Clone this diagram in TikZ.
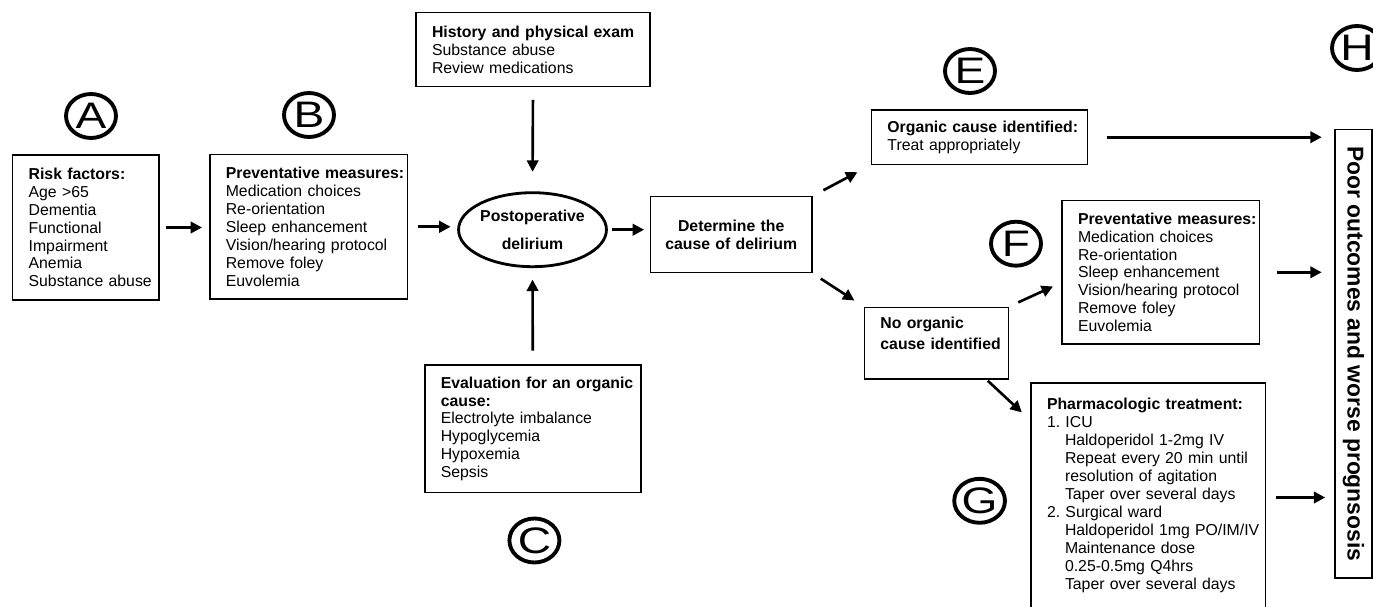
\documentclass[tikz,border=0pt]{standalone}
\usepackage{fontspec}
\setmainfont{Liberation Sans}
\usetikzlibrary{arrows.meta,shapes.geometric,calc}

\begin{document}
\begin{tikzpicture}[
			x=0.02cm, y=-0.02cm,
			box/.style={draw, line width=0.9pt, rectangle, inner sep=0, font=\fontsize{9}{10.2}\selectfont\frenchspacing},
			listbox/.style={box, align=left, execute at begin node={\leftskip=0.32cm}},
			letter/.style={ellipse, draw, line width=2.2pt, minimum width=1cm, minimum height=0.88cm, inner sep=0, font=\fontsize{21}{21}\selectfont},
			arr/.style={line width=1.5pt, -{Triangle[length=6.5pt,width=6.5pt]}},
		]
		\useasboundingbox (0,0) rectangle (1373,607);
		\node[listbox, text width=2.926cm, minimum height=2.9cm] (riskbox) at (85.8,227.5)
			{\textbf{Risk factors:}\\Age >65\\Dementia\\Functional\\Impairment\\Anemia\\Substance abuse};
		\node[listbox, text width=3.956cm, minimum height=2.9cm] (prevbox1) at (308.7,226.8)
			{\textbf{Preventative measures:}\\Medication choices\\Re-orientation\\Sleep enhancement\\Vision/hearing protocol\\Remove foley\\Euvolemia};
		\node[listbox, text width=4.68cm, minimum height=1.48cm] (histbox) at (533,49.7)
			{\textbf{History and physical exam}\\Substance abuse\\Review medications};
		\node[listbox, text width=4.32cm, minimum height=2.554cm] (evalbox) at (532.8,428.8)
			{\textbf{Evaluation for an organic}\\\textbf{cause:}\\Electrolyte imbalance\\Hypoglycemia\\Hypoxemia\\Sepsis};
		\node[ellipse, draw, line width=1.6pt, minimum width=2.546cm, minimum height=1.48cm, inner sep=0, align=center, font=\bfseries\fontsize{9}{10.2}\selectfont] (delirium) at (532.5,229.7)
			{Postoperative\\[5.5pt]delirium};
		\node[box, align=center, text width=3.234cm, minimum height=1.52cm] (causebox) at (731.2,234.7)
			{\bfseries Determine the\\cause of delirium};
		\node[listbox, text width=4.32cm, minimum height=1.086cm] (organicbox) at (979.4,137.2)
			{\textbf{Organic cause identified:}\\Treat appropriately};
		\node[listbox, text width=2.88cm, minimum height=1.44cm] (noorganicbox) at (936.4,343.3)
			{\bfseries No organic\\[1.5pt]cause identified\\[1.5pt]\mbox{}};
		\node[listbox, text width=3.948cm, minimum height=2.866cm] (prevbox2) at (1160.7,272.3)
			{\textbf{Preventative measures:}\\Medication choices\\Re-orientation\\Sleep enhancement\\Vision/hearing protocol\\Remove foley\\Euvolemia};
		\node[listbox, text width=4.692cm, minimum height=4.58cm] (pharmbox) at (1148.3,497.5)
			{\textbf{Pharmacologic treatment:}\\1. ICU\\\hspace*{0.36cm}Haldoperidol 1-2mg IV\\\hspace*{0.36cm}Repeat every 20 min until\\\hspace*{0.36cm}resolution of agitation\\\hspace*{0.36cm}Taper over several days\\2. Surgical ward\\\hspace*{0.36cm}Haldoperidol 1mg PO/IM/IV\\\hspace*{0.36cm}Maintenance dose\\\hspace*{0.36cm}0.25-0.5mg Q4hrs\\\hspace*{0.36cm}Taper over several days\\[-6pt]\mbox{}};
		\node[box, rotate=-90, minimum width=8.98cm, minimum height=0.74cm, font=\bfseries\fontsize{13}{13}\selectfont] (outcomebox) at (1353.5,353.8)
			{Poor outcomes and worse prognsosis};
		\node[letter] (labelA) at (91,116) {\scalebox{1.25}[1]{A}};
		\node[letter] (labelB) at (309,115) {\scalebox{1.25}[1]{B}};
		\node[letter] (labelC) at (534.4,540.5) {\scalebox{1.25}[1]{C}};
		\node[letter] (labelE) at (970,71) {\scalebox{1.25}[1]{E}};
		\node[letter] (labelF) at (1016,243.7) {\scalebox{1.25}[1]{F}};
		\node[letter] (labelG) at (979.6,500.8) {\scalebox{1.25}[1]{G}};
		\node[letter] (labelH) at (1357,48) {\scalebox{1.25}[1]{H}};
		\draw[arr, shorten <=0.13cm, shorten >=0.14cm] (riskbox.east) -- (riskbox.east -| prevbox1.west);
		\draw[arr, shorten <=0.2cm, shorten >=0.13cm] (prevbox1.east) -- (prevbox1.east -| delirium.west);
		\draw[arr, shorten <=0.09cm, shorten >=0.11cm] (delirium.east) -- (delirium.east -| causebox.west);
		\draw[arr, shorten <=0.25cm, shorten >=0.39cm] (histbox.south) -- (delirium.north);
		\draw[arr, shorten <=0.27cm, shorten >=0.23cm] (evalbox.north) -- (delirium.south);
		\draw[arr, shorten <=0.24cm, shorten >=0.3cm] (causebox.north east) -- (organicbox.south west);
		\draw[arr, shorten <=0.19cm, shorten >=0.22cm] (causebox.south east) -- (noorganicbox.north west);
		\draw[arr, shorten <=0.37cm, shorten >=0.25cm] (organicbox.east) -- (organicbox.east -| outcomebox.south);
		\draw[arr, shorten <=0.2cm, shorten >=0.18cm] (noorganicbox.north east) -- (prevbox2.186);
		\draw[arr, shorten <=0.02cm, shorten >=0.23cm] (noorganicbox.324) -- ($(pharmbox.north west)+(0,38)$);
		\draw[arr, shorten <=0.33cm, shorten >=0.25cm] (prevbox2.east) -- (prevbox2.east -| outcomebox.south);
		\draw[arr, shorten <=0.19cm, shorten >=0.18cm] (pharmbox.east) -- (pharmbox.east -| outcomebox.south);
\end{tikzpicture}
\end{document}
